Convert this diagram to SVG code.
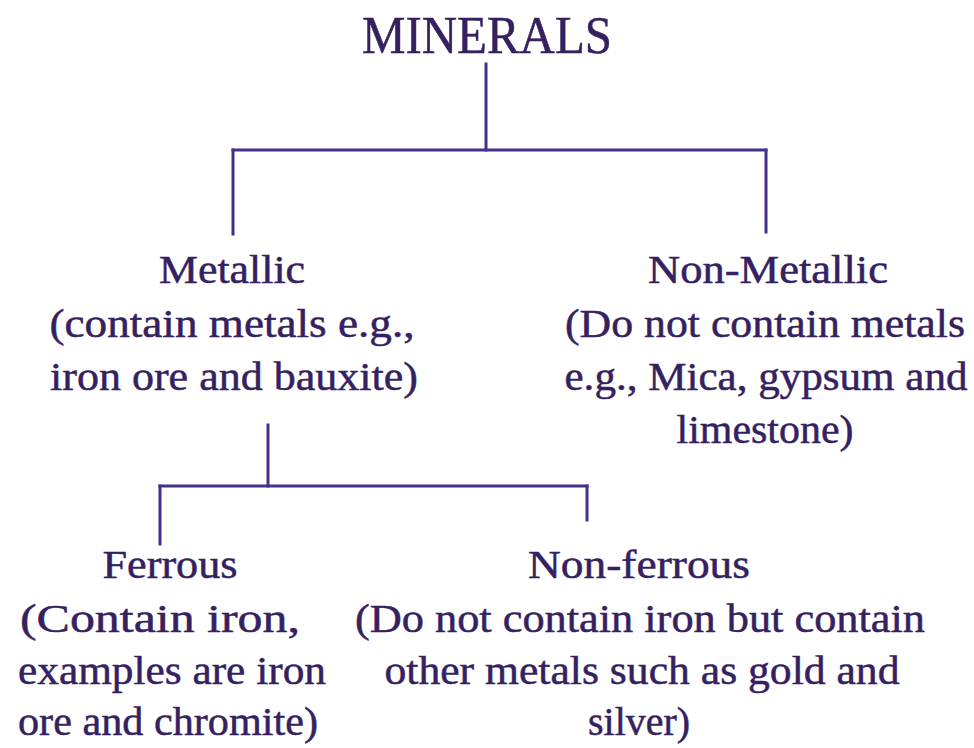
<svg xmlns="http://www.w3.org/2000/svg" width="974" height="748" viewBox="0 0 974 748">
<style>
text{font-family:"Liberation Serif","DejaVu Serif",serif;fill:#35215f;stroke:#35215f;stroke-width:0.5;text-anchor:middle;font-size:40px}
.title{font-size:53px}
.conn line{stroke:#47308a;stroke-width:3;stroke-linecap:square}
</style>
<rect width="974" height="748" fill="#ffffff"/>
<g class="conn" id="connectors">
<line x1="486" y1="64" x2="486" y2="150"/>
<line x1="233" y1="150" x2="766" y2="150"/>
<line x1="233" y1="150" x2="233" y2="234"/>
<line x1="766" y1="150" x2="766" y2="232"/>
<line x1="268" y1="425" x2="268" y2="486"/>
<line x1="160" y1="486" x2="587" y2="486"/>
<line x1="160" y1="486" x2="160" y2="544"/>
<line x1="587" y1="486" x2="587" y2="520"/>
</g>
<g id="minerals"><text class="title" x="487" y="53" textLength="250" lengthAdjust="spacingAndGlyphs">MINERALS</text></g>
<g id="metallic">
<text x="232" y="283" textLength="146" lengthAdjust="spacingAndGlyphs">Metallic</text>
<text x="232" y="337" textLength="365" lengthAdjust="spacingAndGlyphs">(contain metals e.g.,</text>
<text x="234" y="390" textLength="368" lengthAdjust="spacingAndGlyphs">iron ore and bauxite)</text>
</g>
<g id="non-metallic">
<text x="768" y="283" textLength="240" lengthAdjust="spacingAndGlyphs">Non-Metallic</text>
<text x="765" y="337" textLength="400" lengthAdjust="spacingAndGlyphs">(Do not contain metals</text>
<text x="766" y="390" textLength="403" lengthAdjust="spacingAndGlyphs">e.g., Mica, gypsum and</text>
<text x="765" y="443" textLength="177" lengthAdjust="spacingAndGlyphs">limestone)</text>
</g>
<g id="ferrous">
<text x="170" y="578" textLength="135" lengthAdjust="spacingAndGlyphs">Ferrous</text>
<text x="160" y="632" textLength="280" lengthAdjust="spacingAndGlyphs">(Contain iron,</text>
<text x="172" y="684" textLength="308" lengthAdjust="spacingAndGlyphs">examples are iron</text>
<text x="168" y="735" textLength="300" lengthAdjust="spacingAndGlyphs">ore and chromite)</text>
</g>
<g id="non-ferrous">
<text x="639" y="578" textLength="222" lengthAdjust="spacingAndGlyphs">Non-ferrous</text>
<text x="640" y="632" textLength="570" lengthAdjust="spacingAndGlyphs">(Do not contain iron but contain</text>
<text x="642" y="684" textLength="515" lengthAdjust="spacingAndGlyphs">other metals such as gold and</text>
<text x="639" y="735" textLength="102" lengthAdjust="spacingAndGlyphs">silver)</text>
</g>
</svg>
